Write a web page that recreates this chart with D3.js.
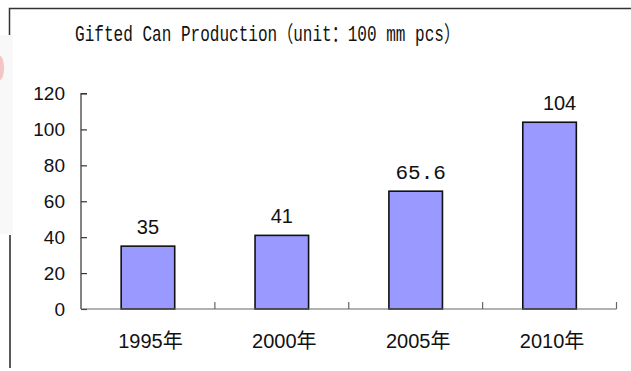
<!DOCTYPE html>
<html>
<head>
<meta charset="utf-8">
<script src="https://cdn.jsdelivr.net/npm/d3@7"></script>
<style>
  html, body { margin: 0; padding: 0; background: #fff; }
  svg { display: block; }
</style>
</head>
<body>
<script>
// Chart data
const years = ["1995年", "2000年", "2005年", "2010年"];
const production = [35, 41, 65.6, 104];
const valueLabels = ["35", "41", "65.6", "104"];
const yTicks = [0, 20, 40, 60, 80, 100, 120];
const titleText = "Gifted Can Production（unit：100 mm pcs）";

const W = 631, H = 371;
const svg = d3.select("body").append("svg")
  .attr("width", W).attr("height", H);

svg.append("rect").attr("width", W).attr("height", H).attr("fill", "#fff");

// Frame pieces at the top-left
svg.append("rect").attr("x", 0).attr("y", 35).attr("width", 13).attr("height", 199)
  .attr("fill", "#f8f8f8");
svg.append("ellipse").attr("cx", 0).attr("cy", 68).attr("rx", 4).attr("ry", 12)
  .attr("fill", "#ee9a9a").attr("opacity", 0.55);
svg.append("path")
  .attr("d", "M9.5,35V8.5H631")
  .attr("fill", "none").attr("stroke", "#333").attr("stroke-width", 1.5);
svg.append("line").attr("x1", 10).attr("x2", 10).attr("y1", 235).attr("y2", 368)
  .attr("stroke", "#222").attr("stroke-width", 1.5);

// Title
svg.append("text")
  .attr("x", 75).attr("y", 41)
  .attr("textLength", 385).attr("lengthAdjust", "spacingAndGlyphs")
  .attr("font-family", "'Liberation Mono', 'Noto Sans CJK SC', monospace")
  .attr("font-size", 22)
  .attr("fill", "#111")
  .text(titleText);

// Scales
const x0 = 81, x1 = 616.5, yBase = 309, yTop = 93.5;
const x = d3.scaleBand().domain(years).range([x0, x1]).paddingInner(0.6).paddingOuter(0.3);
const xCat = d3.scaleBand().domain(years).range([x0, x1]);
const y = d3.scaleLinear().domain([0, 120]).range([yBase, yTop]);

// Y axis
const yAxis = svg.append("g").attr("transform", `translate(${x0},0)`)
  .call(d3.axisRight(y).tickValues(yTicks).tickSize(6).tickFormat(""));
yAxis.select(".domain").attr("stroke", "#333").attr("stroke-width", 1.2)
  .attr("d", `M6,${yTop}H0V${yBase}`);
yAxis.selectAll(".tick line").attr("stroke", "#333").attr("stroke-width", 1.2);

svg.append("g").selectAll("text").data(yTicks).join("text")
  .attr("x", 65).attr("y", d => y(d)).attr("dy", "0.36em")
  .attr("text-anchor", "end")
  .attr("font-family", "'Liberation Sans', Arial, sans-serif")
  .attr("font-size", 19).attr("fill", "#111")
  .text(d => d);

// Bars
svg.append("g").selectAll("rect").data(production).join("rect")
  .attr("x", (d, i) => x(years[i]))
  .attr("y", d => y(d))
  .attr("width", x.bandwidth())
  .attr("height", d => yBase - y(d))
  .attr("fill", "#9999ff")
  .attr("stroke", "#111").attr("stroke-width", 1.6);

// X axis with ticks between categories
const xAxisG = svg.append("g");
xAxisG.append("line").attr("x1", x0).attr("x2", x1).attr("y1", yBase).attr("y2", yBase)
  .attr("stroke", "#666").attr("stroke-width", 1.2);
xAxisG.selectAll("line.tick").data(years).join("line").attr("class", "tick")
  .attr("x1", d => xCat(d) + xCat.bandwidth()).attr("x2", d => xCat(d) + xCat.bandwidth())
  .attr("y1", yBase).attr("y2", yBase - 7)
  .attr("stroke", "#666").attr("stroke-width", 1.2);

svg.append("g").selectAll("text").data(years).join("text")
  .attr("x", d => xCat(d) + xCat.bandwidth() / 2 + 2.5)
  .attr("y", 348)
  .attr("text-anchor", "middle")
  .attr("font-family", "'Liberation Sans', Arial, 'Noto Sans CJK SC', sans-serif")
  .attr("font-size", 20).attr("fill", "#111")
  .text(d => d);

// Value labels
svg.append("g").selectAll("text").data(production).join("text")
  .attr("x", (d, i) => x(years[i]) + x.bandwidth() / 2 + (valueLabels[i].includes(".") ? 5 : 0) + (i === 3 ? 10 : 0))
  .attr("y", d => y(d) - 12)
  .attr("text-anchor", "middle")
  .attr("font-family", (d, i) => valueLabels[i].includes(".")
    ? "'Liberation Mono', monospace" : "'Liberation Sans', Arial, sans-serif")
  .attr("font-size", (d, i) => valueLabels[i].includes(".") ? 21 : 20).attr("fill", "#111")
  .text((d, i) => valueLabels[i]);
</script>
</body>
</html>
